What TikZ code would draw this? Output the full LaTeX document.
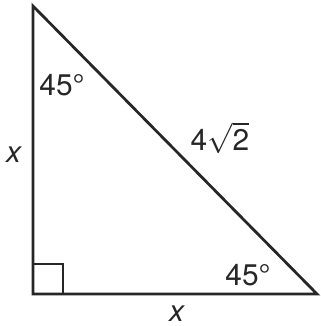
\documentclass[tikz,border=0pt]{standalone}
\usepackage{fontspec}
\setmainfont{TeX Gyre Heros}
\tikzset{
    side/.style={line width=0.055cm, draw=black!85, line join=miter},
    lbl/.style={font=\fontsize{17}{20}\selectfont, text=black!85, inner sep=0}
}

\begin{document}
\begin{tikzpicture}
    \useasboundingbox (0,0) rectangle (6.42,6.52);

    \coordinate (A) at (0.66,6.40);
    \coordinate (B) at (0.66,0.64);
    \coordinate (C) at (6.34,0.64);

    \draw[side] (A) -- (B) -- (C) -- cycle;
    \draw[line width=0.04cm, draw=black!85] (0.66,1.24) -- (1.26,1.24) -- (1.26,0.64);

    \node[lbl] (angA) at (1.24,4.82) {45°};
    \node[lbl] (angC) at (4.96,1.02) {45°};
    \node[lbl] (sideAB) at (0.28,3.42) {\textit{x}};
    \node[lbl] (sideBC) at (3.54,0.24) {\textit{x}};
    \node[lbl] (sideAC) at (4.40,3.76) {4$\sqrt{\mbox{2}}$};
\end{tikzpicture}
\end{document}
